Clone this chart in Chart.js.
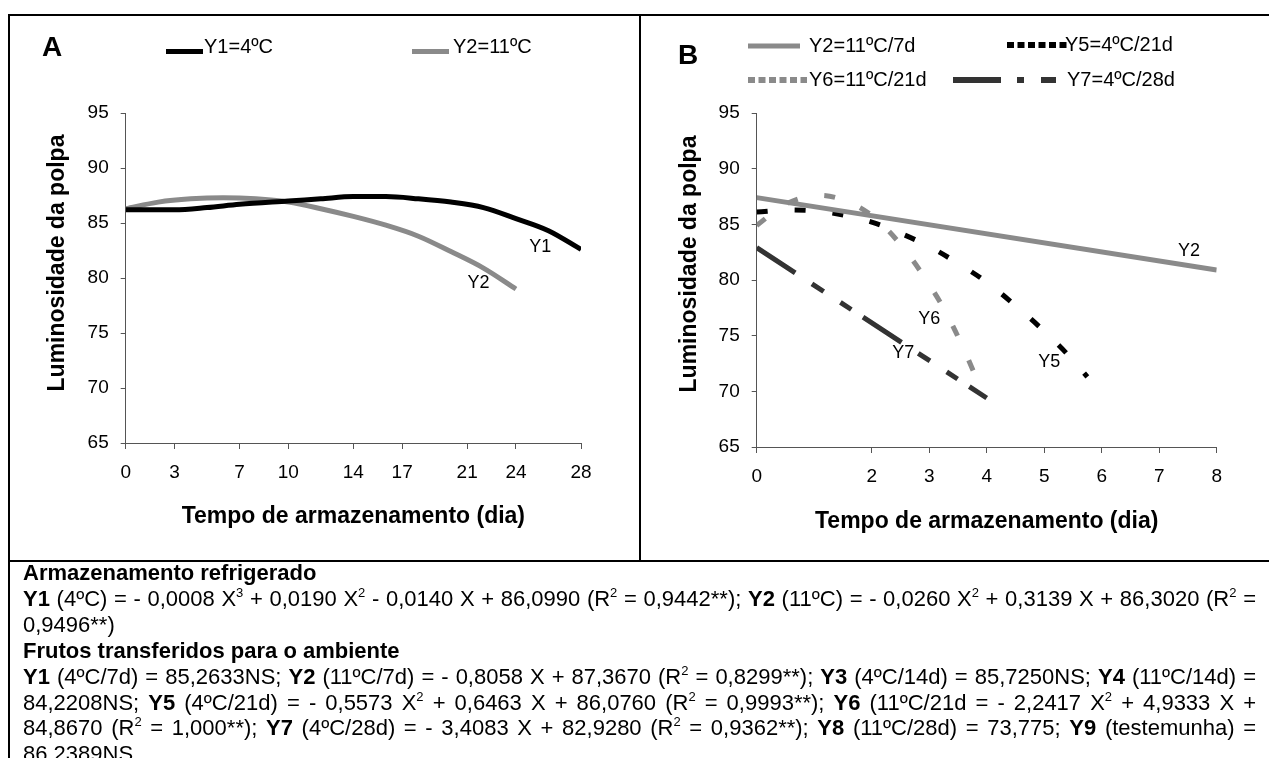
<!DOCTYPE html>
<html>
<head>
<meta charset="utf-8">
<script src="https://cdn.jsdelivr.net/npm/chart.js"></script>
<style>
html, body { margin: 0; padding: 0; background: #fff; }
body { width: 1269px; height: 758px; position: relative; overflow: hidden;
       font-family: "Liberation Sans", Arial, sans-serif; color: #000; }
canvas { position: absolute; top: 0; }
.linha { position: absolute; background: #000; }
#notas { position: absolute; left: 23px; top: 560px; width: 1233px; font-size: 22px; line-height: 25.9px; }
#notas div { white-space: nowrap; text-align: justify; text-align-last: justify; }
#notas div.fim { text-align-last: left; }
sup { font-size: 13px; line-height: 0; vertical-align: 9px; }
</style>
</head>
<body>
<canvas id="graficoA" width="640" height="561" style="left:0"></canvas>
<canvas id="graficoB" width="628" height="561" style="left:641px"></canvas>

<div class="linha" style="left:8px;top:14px;width:1261px;height:2px"></div>
<div class="linha" style="left:8px;top:14px;width:2px;height:744px"></div>
<div class="linha" style="left:639px;top:14px;width:2px;height:547px"></div>
<div class="linha" style="left:8px;top:560px;width:1261px;height:2px"></div>

<div id="notas">
  <div class="fim"><b>Armazenamento refrigerado</b></div>
  <div><b>Y1</b> (4ºC) = - 0,0008 X<sup>3</sup> + 0,0190 X<sup>2</sup> - 0,0140 X + 86,0990 (R<sup>2</sup> = 0,9442**); <b>Y2</b> (11ºC) = - 0,0260 X<sup>2</sup> + 0,3139 X + 86,3020 (R<sup>2</sup> =</div>
  <div class="fim">0,9496**)</div>
  <div class="fim"><b>Frutos transferidos para o ambiente</b></div>
  <div><b>Y1</b> (4ºC/7d) = 85,2633NS; <b>Y2</b> (11ºC/7d) = - 0,8058 X + 87,3670 (R<sup>2</sup> = 0,8299**); <b>Y3</b> (4ºC/14d) = 85,7250NS; <b>Y4</b> (11ºC/14d) =</div>
  <div>84,2208NS; <b>Y5</b> (4ºC/21d) = - 0,5573 X<sup>2</sup> + 0,6463 X + 86,0760 (R<sup>2</sup> = 0,9993**); <b>Y6</b> (11ºC/21d = - 2,2417 X<sup>2</sup> + 4,9333 X +</div>
  <div>84,8670 (R<sup>2</sup> = 1,000**); <b>Y7</b> (4ºC/28d) = - 3,4083 X + 82,9280 (R<sup>2</sup> = 0,9362**); <b>Y8</b> (11ºC/28d) = 73,775; <b>Y9</b> (testemunha) =</div>
  <div class="fim">86,2389NS</div>
</div>

<script>
// eixos
const diasA = [0, 3, 7, 10, 14, 17, 21, 24, 28];
const diasB = [0, 2, 3, 4, 5, 6, 7, 8];

// A - armazenamento refrigerado
const y1Dias = [0, 3, 5, 7, 10, 12, 14, 16, 18, 20, 22, 24, 26, 28];
const y1Lum  = [86.2, 86.2, 86.4, 86.7, 87.0, 87.2, 87.4, 87.4, 87.2, 86.9, 86.4, 85.4, 84.3, 82.6];
const y2Dias = [0, 2, 4, 6, 8, 10, 12, 14, 16, 18, 20, 22, 24];
const y2Lum  = [86.3, 86.9, 87.2, 87.3, 87.2, 86.9, 86.3, 85.6, 84.8, 83.8, 82.4, 80.9, 79.0];

// B - frutos transferidos para o ambiente
const b2Dias = [0, 8];
const b2Lum  = [87.4, 80.9];
const b5Dias = [0, 0.6, 1.2, 2, 2.5, 3, 3.5, 4, 4.5, 5, 5.5, 5.75];
const b5Lum  = [86.1, 86.3, 86.1, 85.2, 84.2, 83.0, 81.5, 79.8, 77.7, 75.4, 72.8, 71.3];
const b6Dias = [0, 0.5, 1.1, 1.5, 2, 2.5, 3, 3.3, 3.6, 3.9];
const b6Lum  = [84.9, 86.8, 87.6, 87.2, 85.8, 83.2, 79.6, 77.0, 73.8, 70.2];
const b7Dias = [0, 4];
const b7Lum  = [82.9, 69.4];

const FONTE = '"Liberation Sans", Arial, sans-serif';
const CINZA = '#8a8a8a';
Chart.defaults.font.family = FONTE;
Chart.defaults.color = '#000';

const pontos = (xs, ys) => xs.map((x, i) => ({ x: x, y: ys[i] }));

// letra do painel, titulo do eixo y, legenda e rotulos das curvas
const anotacoes = {
  id: 'anotacoes',
  afterDraw(chart, args, o) {
    const ctx = chart.ctx;
    const sx = chart.scales.x, sy = chart.scales.y;
    ctx.save();
    ctx.fillStyle = '#000';
    ctx.textBaseline = 'middle';
    ctx.textAlign = 'left';
    ctx.font = 'bold 28px ' + FONTE;
    ctx.fillText(o.letra, o.letraX, o.letraY);

    ctx.save();
    ctx.translate(o.tituloX, o.tituloY);
    ctx.rotate(-Math.PI / 2);
    ctx.textAlign = 'center';
    ctx.font = 'bold 23px ' + FONTE;
    ctx.fillText('Luminosidade da polpa', 0, 0);
    ctx.restore();

    ctx.font = '20px ' + FONTE;
    o.legenda.forEach(it => {
      const ds = chart.data.datasets[it.serie];
      ctx.beginPath();
      ctx.strokeStyle = ds.borderColor;
      ctx.lineWidth = it.esp;
      ctx.lineCap = 'butt';
      ctx.setLineDash(it.tracos || []);
      ctx.moveTo(it.x0, it.ly);
      ctx.lineTo(it.x1, it.ly);
      ctx.stroke();
      ctx.setLineDash([]);
      ctx.fillText(ds.label, it.tx, it.ty);
    });

    ctx.font = '18px ' + FONTE;
    ctx.textAlign = 'center';
    o.rotulos.forEach(r => {
      ctx.fillText(r.t, sx.getPixelForValue(r.x), sy.getPixelForValue(r.y));
    });
    ctx.restore();
  }
};

function grafico(id, largura, geo, series, ticksX, maxX, anot) {
  const fundo = 561 - (geo.tituloX + 13.8);
  return new Chart(document.getElementById(id), {
    type: 'line',
    data: { datasets: series },
    options: {
      responsive: false,
      animation: false,
      layout: { padding: { left: 0, top: geo.topo, right: largura - geo.dir, bottom: fundo } },
      elements: { point: { radius: 0 }, line: { borderCapStyle: 'butt', fill: false } },
      plugins: { legend: { display: false }, tooltip: { enabled: false }, anotacoes: anot },
      scales: {
        x: {
          type: 'linear', min: 0, max: maxX,
          afterBuildTicks: s => { s.ticks = ticksX.map(v => ({ value: v })); },
          afterFit: s => { s.height = (561 - fundo) - geo.base; },
          grid: { drawOnChartArea: false, tickLength: 6, color: '#555' },
          border: { color: '#555' },
          ticks: { font: { size: 19 }, padding: 12, maxRotation: 0, autoSkip: false },
          title: { display: true, text: 'Tempo de armazenamento (dia)', padding: 0,
                   font: { size: 23, weight: 'bold' } }
        },
        y: {
          min: 65, max: 95,
          afterFit: s => { s.width = geo.esq; },
          grid: { drawOnChartArea: false, tickLength: 5, color: '#555' },
          border: { color: '#555' },
          ticks: { stepSize: 5, font: { size: 19 }, padding: 12 }
        }
      }
    },
    plugins: [anotacoes]
  });
}

grafico('graficoA', 640,
  { esq: 125.7, dir: 581, topo: 113, base: 443, tituloX: 516.7 },
  [
    { label: 'Y1=4ºC', data: pontos(y1Dias, y1Lum), borderColor: '#000', borderWidth: 5,
      cubicInterpolationMode: 'monotone' },
    { label: 'Y2=11ºC', data: pontos(y2Dias, y2Lum), borderColor: CINZA, borderWidth: 5,
      cubicInterpolationMode: 'monotone' }
  ],
  diasA, 28,
  {
    letra: 'A', letraX: 42, letraY: 48, tituloX: 58, tituloY: 263,
    legenda: [
      { serie: 0, x0: 166, x1: 203, ly: 51.5, esp: 5, tx: 204, ty: 47 },
      { serie: 1, x0: 412, x1: 449, ly: 51.5, esp: 5, tx: 453, ty: 47 }
    ],
    rotulos: [
      { t: 'Y1', x: 25.5, y: 82.8 },
      { t: 'Y2', x: 21.7, y: 79.5 }
    ]
  });

const tracoY5 = [11, 27];
const tracoY7 = [46, 20, 14, 20, 13, 14];

grafico('graficoB', 628,
  { esq: 115.7, dir: 575.7, topo: 113, base: 447, tituloX: 521.7 },
  [
    { label: 'Y2=11ºC/7d', data: pontos(b2Dias, b2Lum), borderColor: CINZA, borderWidth: 5 },
    { label: 'Y5=4ºC/21d', data: pontos(b5Dias, b5Lum), borderColor: '#000', borderWidth: 5,
      borderDash: tracoY5, cubicInterpolationMode: 'monotone' },
    { label: 'Y6=11ºC/21d', data: pontos(b6Dias, b6Lum), borderColor: CINZA, borderWidth: 5,
      borderDash: tracoY5, cubicInterpolationMode: 'monotone' },
    { label: 'Y7=4ºC/28d', data: pontos(b7Dias, b7Lum), borderColor: '#333', borderWidth: 5,
      borderDash: tracoY7 }
  ],
  diasB, 8,
  {
    letra: 'B', letraX: 37, letraY: 56, tituloX: 49, tituloY: 264,
    legenda: [
      { serie: 0, x0: 107, x1: 159, ly: 46, esp: 5, tx: 168, ty: 46 },
      { serie: 1, x0: 366, x1: 429, ly: 45, esp: 6, tracos: [7, 3.5], tx: 424, ty: 45 },
      { serie: 2, x0: 107, x1: 166, ly: 80, esp: 6, tracos: [7, 3.5], tx: 168, ty: 80 },
      { serie: 3, x0: 312, x1: 416, ly: 80, esp: 6, tracos: [48, 16, 7, 17, 15, 20], tx: 426, ty: 80 }
    ],
    rotulos: [
      { t: 'Y2', x: 7.52, y: 82.6 },
      { t: 'Y6', x: 3.0, y: 76.5 },
      { t: 'Y7', x: 2.55, y: 73.4 },
      { t: 'Y5', x: 5.09, y: 72.6 }
    ]
  });
</script>
</body>
</html>
